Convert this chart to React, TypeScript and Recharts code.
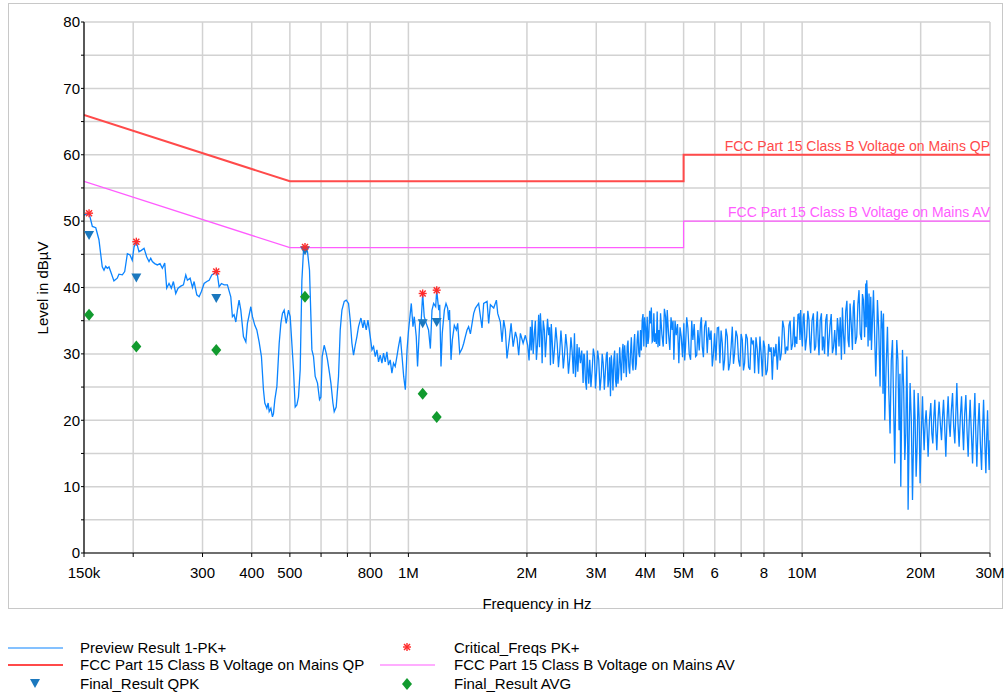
import React from "react";
import { ComposedChart, Line, Scatter, XAxis, YAxis, CartesianGrid } from "recharts";

// frequencies in kHz, levels in dBµV
const traceLow: [number, number][] = [
  [150, 50.9], [151.5, 51.0], [154.5, 51.2], [157.5, 49.2], [160.7, 49.0], [163.7, 47.2], [166.9, 43.1], [168.6, 42.6],
  [170.3, 43.2], [171.9, 42.9], [173.6, 43.1], [175.3, 42.4], [178.7, 41.0], [182.2, 41.4], [184, 42.0], [187.7, 41.9],
  [190.3, 42.4], [193.3, 45.1], [196.3, 44.9], [198.9, 44.1], [201, 46.1], [203.7, 46.9], [206.9, 45.4], [209.8, 45.6],
  [213.1, 45.9], [216.5, 44.6], [219.4, 43.9], [221.6, 44.4], [223.7, 43.9], [226.8, 43.6], [230.3, 43.4], [234, 43.6],
  [237.2, 42.9], [240.5, 43.7], [243.3, 39.9], [246.6, 40.6], [250, 39.9], [253, 40.9], [256.5, 39.1], [260, 39.9],
  [264.2, 40.2], [268.3, 40.4], [272, 41.9], [274.6, 41.1], [279, 41.4], [282.8, 40.0], [285.6, 40.9], [290.1, 38.9],
  [294.1, 38.6], [298, 39.4], [302.8, 40.6], [307.6, 40.9], [311.8, 41.1], [316.7, 41.9], [321, 42.1], [325.1, 42.4],
  [327.3, 41.9], [330.5, 40.1], [335, 40.6], [340.4, 40.4], [347, 40.4], [353.9, 38.6], [357.3, 35.6], [360.8, 35.9],
  [364.5, 34.8], [367.9, 36.6], [371.5, 38.1], [375.3, 36.6], [381.1, 32.6], [386.5, 31.8], [390.1, 34.6], [397.9, 37.1],
  [401.7, 35.6], [407.3, 34.3], [412.1, 33.6], [417.7, 31.8], [423.4, 29.6], [428.4, 24.6], [431.8, 22.6], [437, 21.8],
  [440.3, 22.6], [443, 21.3], [447.4, 21.8], [451.6, 20.5], [454.3, 21.0], [457.9, 23.1], [463.4, 25.1], [469.7, 31.6],
  [474.3, 34.6], [478.8, 36.1], [483.6, 36.6], [489.3, 34.6], [495.9, 36.6], [500.9, 35.6], [510.7, 27.6], [515.8, 22.0],
  [520.9, 22.3], [525.8, 23.5], [531.1, 27.6], [536.4, 41.1], [541.5, 45.6], [546.2, 46.0], [554.3, 45.4], [560.8, 42.6],
  [568.7, 30.6], [574.1, 29.6], [579.8, 26.6], [587.7, 25.6], [594.6, 23.1], [599.4, 23.5], [604, 29.6], [611.1, 31.3],
  [618.3, 30.1], [623.1, 29.1], [630.4, 27.1], [635.6, 25.6], [643.1, 22.6], [648, 21.3], [655.6, 22.0], [664.5, 26.6],
  [671.2, 33.6], [677.9, 36.6], [687.1, 37.9], [695.2, 38.1], [704.6, 37.6], [711.6, 35.1], [718.7, 31.6], [725.5, 29.8],
  [732.7, 31.3], [740, 32.6], [747, 34.1], [757.6, 35.4], [766.5, 33.9], [772.4, 35.1], [781.4, 33.6], [789.2, 35.1],
  [800, 32.6], [808, 30.6], [815.7, 31.1], [823.8, 29.6], [831.9, 30.6], [839.8, 28.8], [848, 29.8], [856.5, 28.6],
  [864.6, 30.1], [873.2, 28.8], [881.8, 30.3], [890.1, 28.3], [899, 29.1], [908, 27.1], [916.6, 28.6], [925.7, 28.1],
  [934.9, 29.6], [943.7, 31.1], [954, 32.6], [963.5, 29.6], [972.7, 26.6], [982.3, 24.6], [992.1, 30.6], [1001, 33.6],
  [1011, 36.1], [1017, 37.6], [1027, 34.1], [1035, 35.6], [1047, 32.6], [1055, 28.1], [1068, 34.6], [1078, 35.1],
  [1087, 39.1], [1097, 35.6], [1110, 34.6], [1125, 33.6], [1137, 30.8], [1148, 36.6], [1159, 37.6], [1173, 37.1],
  [1180, 39.6], [1194, 36.6], [1201, 37.4], [1210, 28.1], [1219, 33.1], [1234, 36.6], [1246, 37.6], [1258, 36.9],
  [1265, 35.1], [1272, 36.6], [1283, 29.1], [1293, 32.1], [1308, 34.3], [1324, 33.6], [1334, 34.6], [1350, 30.1],
  [1369, 30.8], [1382, 31.6], [1395, 32.6], [1409, 33.6], [1422, 34.1], [1437, 33.0], [1465, 36.1], [1480, 36.9],
  [1508, 37.6], [1538, 33.9], [1553, 37.6], [1584, 37.9], [1599, 34.6], [1615, 37.4], [1647, 36.9], [1673, 38.1],
  [1686, 36.1], [1712, 34.8], [1729, 31.8], [1746, 35.1], [1763, 33.6], [1780, 29.3], [1808, 32.6], [1823, 34.6],
  [1845, 31.1], [1870, 33.3], [1888, 32.3], [1906, 29.8], [1925, 33.1], [1956, 31.6], [1982, 32.8],
];

const traceMid: [number, number][] = [
  [2009, 31.3], [2041, 34.1], [2061, 35.1], [2089, 33.1], [2114, 29.1], [2142, 35.9], [2164, 36.1], [2186, 28.6],
  [2215, 33.6], [2241, 32.1], [2272, 32.8], [2295, 28.3], [2318, 32.1], [2349, 30.6], [2387, 31.6], [2423, 30.3],
  [2457, 31.1], [2491, 29.8], [2530, 30.8], [2569, 29.3], [2606, 30.3], [2641, 33.1], [2672, 29.1], [2693, 27.3],
  [2735, 28.6], [2778, 25.6], [2800, 29.8], [2833, 24.6], [2855, 28.1], [2888, 29.1], [2929, 27.6], [2969, 29.6],
  [3004, 27.1], [3044, 29.1], [3088, 26.6], [3124, 28.6], [3166, 27.6], [3198, 30.3], [3228, 26.1], [3260, 23.6],
  [3293, 27.6], [3324, 29.1], [3357, 26.1], [3390, 30.1], [3422, 27.1], [3457, 28.6], [3492, 30.3], [3525, 27.1],
  [3560, 29.1], [3595, 31.1], [3629, 28.1], [3665, 30.1], [3702, 28.6], [3737, 31.1], [3774, 27.6], [3811, 32.1],
  [3847, 30.1], [3886, 33.6], [3925, 35.1], [3962, 31.1], [4001, 34.1], [4041, 35.6], [4079, 32.6], [4120, 34.6],
  [4161, 31.8], [4201, 36.1], [4242, 33.1], [4284, 36.4], [4325, 33.6], [4369, 36.1], [4438, 31.1], [4499, 35.6],
  [4543, 36.6], [4613, 30.6], [4678, 33.6], [4723, 29.1], [4789, 32.8], [4862, 28.6], [4931, 32.6], [5007, 34.6],
  [5057, 31.1], [5126, 33.9], [5208, 29.1], [5278, 32.1], [5363, 29.6], [5436, 33.6], [5521, 34.6], [5576, 31.1],
  [5652, 34.1], [5741, 30.1], [5830, 32.1], [5913, 28.1], [5993, 33.1], [6088, 33.9], [6182, 28.6], [6269, 31.6],
  [6354, 29.1], [6455, 32.6], [6554, 28.6], [6647, 34.1], [6737, 30.1], [6844, 32.6], [6950, 28.1], [7048, 32.1],
  [7143, 28.6], [7256, 32.3], [7369, 27.6], [7473, 31.6], [7574, 27.1], [7694, 30.6], [7813, 32.6], [7923, 26.6],
  [8031, 31.1], [8158, 27.6], [8284, 30.3], [8401, 26.1], [8515, 29.6], [8650, 27.6], [8731, 32.6], [8856, 30.1],
  [8993, 33.9], [9135, 31.1], [9258, 34.3], [9389, 30.6], [9534, 35.6], [9629, 32.6], [9760, 35.9], [9875, 32.1],
];

// extra readings from the dense part of the sweep (2 MHz and up)
const traceMidExtra: [number, number][] = [
  [2025, 29.0], [2051, 30.5], [2075, 30.0], [2101, 35.0], [2128, 31.5], [2153, 31.0], [2175, 33.5], [2200, 35.0],
  [2228, 29.5], [2256, 35.3], [2283, 34.0], [2306, 34.5], [2333, 28.5], [2368, 34.0], [2405, 28.0], [2440, 33.5],
  [2474, 27.8], [2510, 33.0], [2550, 27.0], [2587, 32.5], [2623, 27.0], [2656, 26.5], [2682, 31.5], [2714, 31.0],
  [2756, 30.5], [2789, 30.0], [2816, 26.0], [2844, 30.5], [2871, 25.5], [2908, 25.0], [2949, 30.8], [2986, 24.8],
  [3024, 30.5], [3066, 24.5], [3106, 30.0], [3145, 24.6], [3182, 29.8], [3213, 25.0], [3244, 29.5], [3276, 29.8],
  [3308, 24.5], [3340, 30.5], [3373, 25.0], [3406, 25.5], [3440, 31.0], [3474, 26.0], [3508, 31.5], [3542, 31.3],
  [3577, 26.5], [3612, 32.0], [3647, 27.0], [3683, 32.5], [3720, 27.5], [3755, 33.0], [3792, 28.5], [3829, 33.5],
  [3866, 29.5], [3905, 30.5], [3943, 36.0], [3981, 35.5], [4021, 31.0], [4060, 31.5], [4099, 36.5], [4140, 37.0],
  [4181, 32.0], [4221, 31.8], [4263, 31.5], [4304, 31.0], [4347, 31.2], [4403, 33.0], [4468, 36.8], [4521, 31.5],
  [4578, 33.0], [4645, 35.5], [4700, 35.0], [4756, 35.0], [4825, 34.5], [4896, 34.0], [4969, 29.5], [5032, 29.0],
  [5091, 35.5], [5167, 30.0], [5243, 35.0], [5320, 34.5], [5399, 29.8], [5478, 30.5], [5548, 35.5], [5614, 29.5],
  [5696, 35.0], [5785, 34.0], [5871, 33.5], [5953, 30.0], [6040, 29.0], [6135, 34.0], [6225, 33.5], [6311, 27.5],
  [6404, 33.8], [6504, 27.5], [6600, 31.0], [6692, 28.5], [6790, 33.5], [6897, 29.0], [6999, 33.0], [7095, 27.5],
  [7199, 33.0], [7312, 28.0], [7421, 32.5], [7523, 32.0], [7634, 32.5], [7753, 27.0], [7868, 30.0], [7977, 32.0],
  [8094, 26.8], [8221, 31.5], [8342, 31.0], [8458, 31.0], [8582, 31.5], [8690, 30.0], [8793, 29.0], [8924, 35.0],
  [9064, 30.0], [9196, 30.5], [9323, 35.0], [9461, 31.5], [9581, 31.0], [9694, 31.5], [9817, 36.0], [9895, 35.0],
];

const traceHigh: [number, number][] = [
  [9915, 36.6], [10014, 31.1], [10109, 36.1], [10269, 32.6], [10408, 35.1], [10513, 30.1], [10680, 36.1], [10825, 31.1],
  [10932, 36.4], [11036, 29.8], [11193, 36.1], [11324, 32.6], [11478, 35.1], [11634, 29.6], [11771, 34.3], [11937, 30.1],
  [12099, 33.6], [12291, 35.4], [12406, 31.1], [12582, 29.1], [12730, 33.1], [12903, 36.4], [13079, 32.1], [13233, 37.6],
  [13420, 30.6], [13547, 38.1], [13761, 32.6], [13947, 39.6], [14146, 32.1], [14312, 38.1], [14506, 40.6], [14591, 41.1],
  [14704, 31.1], [14788, 39.1], [14937, 38.6], [14998, 30.6], [15175, 39.6], [15381, 26.6], [15533, 38.1], [15773, 25.1],
  [15996, 33.6], [16090, 36.1], [16213, 20.0], [16470, 34.1], [16723, 18.0], [16960, 32.1], [17190, 13.5], [17391, 32.1],
  [17627, 18.5], [17805, 10.0], [17983, 30.6], [18227, 14.0], [18441, 29.6], [18583, 6.5], [18801, 25.6], [19067, 8.0],
  [19248, 24.6], [19476, 11.5], [19703, 24.1], [19934, 10.5], [20216, 23.6], [20408, 15.5], [20650, 21.5], [20891, 14.5],
  [21223, 22.6], [21473, 16.5], [21726, 23.1], [21981, 15.5], [22278, 22.8], [22595, 17.0], [22861, 23.1], [23171, 14.5],
  [23486, 23.6], [23763, 17.5], [24098, 24.1], [24424, 16.5], [24711, 25.6], [25045, 16.0], [25402, 23.6], [25700, 15.5],
  [26049, 23.8], [26404, 14.5], [26713, 23.1], [27091, 13.5], [27459, 24.1], [27781, 13.0], [28156, 22.6], [28557, 12.5],
  [28892, 23.1], [29285, 12.0], [29575, 21.5], [29853, 12.5], [30000, 17.0],
];

const traceHighExtra: [number, number][] = [
  [9964, 33.0], [10061, 35.5], [10189, 30.5], [10338, 36.5], [10460, 31.5], [10596, 35.0], [10752, 30.5], [10878, 34.5],
  [10984, 32.0], [11114, 35.0], [11258, 30.5], [11401, 30.0], [11556, 36.0], [11702, 32.0], [11854, 36.0], [12018, 31.0],
  [12195, 29.8], [12348, 34.0], [12494, 35.5], [12656, 37.0], [12816, 30.0], [12991, 38.0], [13156, 31.0], [13326, 34.5],
  [13483, 37.0], [13654, 31.5], [13854, 37.5], [14046, 33.0], [14229, 39.0], [14409, 32.5], [14548, 34.0], [14647, 38.5],
  [14746, 35.0], [14862, 32.0], [14967, 36.0], [15086, 35.0], [15278, 33.0], [15457, 31.0], [15653, 33.5], [15884, 36.5],
  [16043, 24.0], [16151, 30.0], [16341, 28.0], [16596, 24.5], [16841, 29.0], [17075, 22.0], [17290, 24.0], [17509, 29.0],
  [17716, 27.0], [17894, 21.0], [18105, 25.0], [18334, 18.0], [18512, 22.0], [18692, 17.0], [18934, 20.0], [19157, 15.0],
  [19362, 20.0], [19589, 16.0], [19818, 20.5], [20075, 18.0], [20312, 19.0], [20529, 19.5], [20770, 18.5], [21057, 20.0],
  [21348, 18.0], [21599, 20.5], [21853, 18.5], [22129, 20.0], [22436, 19.5], [22728, 20.5], [23016, 19.0], [23328, 20.0],
  [23624, 19.5], [23930, 21.5], [24261, 19.0], [24567, 21.0], [24878, 19.5], [25223, 20.5], [25551, 19.0], [25874, 21.0],
  [26226, 18.5], [26558, 19.5], [26902, 18.0], [27275, 19.5], [27620, 17.5], [27968, 19.0], [28356, 16.5], [28724, 18.5],
  [29088, 17.0], [29430, 17.5], [29714, 16.0],
];

const limitQP: [number, number][] = [[150, 66], [500, 56], [5000, 56], [5000, 60], [30000, 60]];
const limitAV: [number, number][] = [[150, 56], [500, 46], [5000, 46], [5000, 50], [30000, 50]];

const finalFreqs = [154.5, 203.7, 325.1, 546.2, 1087, 1180];
const criticalLevels = [51.2, 46.9, 42.4, 46.1, 39.1, 39.6];
const qpkLevels = [47.9, 41.5, 38.4, 45.6, 34.6, 34.8];
const avgLevels = [35.9, 31.1, 30.6, 38.6, 24.0, 20.5];

const xTicks = [150, 200, 300, 400, 500, 600, 700, 800, 1000, 2000, 3000, 4000, 5000, 6000, 7000, 8000, 10000, 20000, 30000];
const xTickLabels: Record<number, string> = {
  150: "150k", 300: "300", 400: "400", 500: "500", 800: "800", 1000: "1M", 2000: "2M", 3000: "3M",
  4000: "4M", 5000: "5M", 6000: "6", 8000: "8", 10000: "10M", 20000: "20M", 30000: "30M",
};
const yTicks = [0, 5, 10, 15, 20, 25, 30, 35, 40, 45, 50, 55, 60, 65, 70, 75, 80];

const toPts = (arr: [number, number][]) => arr.map(([k, v]) => ({ f: k * 1000, v }));
const traceData = toPts(
  [...traceLow, ...traceMid, ...traceMidExtra, ...traceHigh, ...traceHighExtra].sort((a, b) => a[0] - b[0])
);
const qpData = toPts(limitQP);
const avData = toPts(limitAV);
const critData = finalFreqs.map((k, i) => ({ f: k * 1000, v: criticalLevels[i] }));
const qpkData = finalFreqs.map((k, i) => ({ f: k * 1000, v: qpkLevels[i] }));
const avgData = finalFreqs.map((k, i) => ({ f: k * 1000, v: avgLevels[i] }));

const FONT = '"Liberation Sans", Arial, sans-serif';
const BLUE = "#0a84ff";
const RED = "#ff4a4a";
const MAGENTA = "#ff5cff";
const TRI = "#1b78be";
const GREEN = "#119a2e";
const STAR = "#ff2b2b";

const Asterisk = ({ cx, cy }: any) => (
  <g stroke={STAR} strokeWidth={1.4}>
    <line x1={cx - 4} y1={cy} x2={cx + 4} y2={cy} />
    <line x1={cx} y1={cy - 4} x2={cx} y2={cy + 4} />
    <line x1={cx - 3} y1={cy - 3} x2={cx + 3} y2={cy + 3} />
    <line x1={cx - 3} y1={cy + 3} x2={cx + 3} y2={cy - 3} />
  </g>
);

const Triangle = ({ cx, cy }: any) => (
  <polygon points={`${cx - 5},${cy - 4} ${cx + 5},${cy - 4} ${cx},${cy + 5}`} fill={TRI} />
);

const Diamond = ({ cx, cy }: any) => (
  <polygon points={`${cx},${cy - 6} ${cx + 5},${cy} ${cx},${cy + 6} ${cx - 5},${cy}`} fill={GREEN} />
);

const limitLabel = (text: string, color: string, count: number) => (props: any) => {
  if (props.index !== count - 1) return <g />;
  return (
    <text x={props.x} y={props.y - 4} textAnchor="end" fill={color} fontSize={14} fontFamily={FONT}>
      {text}
    </text>
  );
};

const legendRows = [
  { y: 648, text: "Preview Result 1-PK+", sym: "line", color: BLUE, w: 1.2 },
  { y: 665, text: "FCC Part 15 Class B Voltage on Mains QP", sym: "line", color: RED, w: 2 },
  { y: 684, text: "Final_Result QPK", sym: "tri", color: TRI, w: 0 },
];
const legendRows2 = [
  { y: 648, text: "Critical_Freqs PK+", sym: "star", color: STAR, w: 0 },
  { y: 665, text: "FCC Part 15 Class B Voltage on Mains AV", sym: "line", color: MAGENTA, w: 1.2 },
  { y: 684, text: "Final_Result AVG", sym: "dia", color: GREEN, w: 0 },
];

function LegendItem({ x, textX, row }: { x: number; textX: number; row: any }) {
  return (
    <>
      <svg style={{ position: "absolute", left: x, top: row.y - 8, overflow: "visible" }} width={56} height={16}>
        {row.sym === "line" && <line x1={0} y1={8} x2={55} y2={8} stroke={row.color} strokeWidth={row.w} />}
        {row.sym === "tri" && <Triangle cx={27} cy={7} />}
        {row.sym === "dia" && <Diamond cx={27} cy={8} />}
        {row.sym === "star" && <Asterisk cx={27} cy={7} />}
      </svg>
      <div style={{ position: "absolute", left: textX, top: row.y - 9, fontSize: 15, lineHeight: "18px", whiteSpace: "nowrap" }}>
        {row.text}
      </div>
    </>
  );
}

export default function App() {
  return (
    <div style={{ position: "absolute", left: 0, top: 0, width: 1008, height: 696, background: "#fff", fontFamily: FONT, color: "#000" }}>
      <div style={{ position: "absolute", left: 8, top: 3, width: 993, height: 604, border: "1px solid #c8c8c8" }} />
      <div style={{ position: "absolute", left: 0, top: 0 }}>
        <ComposedChart width={1008} height={696} margin={{ top: 22, right: 18, bottom: 103, left: 44 }}>
          <CartesianGrid stroke="#d2d2d2" strokeWidth={1.5} />
          <XAxis
            dataKey="f"
            type="number"
            scale="log"
            domain={[150000, 30000000]}
            allowDataOverflow
            ticks={xTicks.map((k) => k * 1000)}
            tickFormatter={(v: number) => xTickLabels[Math.round(v / 1000)] ?? ""}
            height={40}
            tickSize={4}
            tickMargin={10}
            axisLine={{ stroke: "#000", strokeWidth: 1.2 }}
            tickLine={{ stroke: "#000" }}
            tick={{ fill: "#000", fontSize: 15, fontFamily: FONT }}
            interval={0}
          />
          <YAxis
            dataKey="v"
            type="number"
            domain={[0, 80]}
            allowDataOverflow
            ticks={yTicks}
            tickFormatter={(v: number) => (v % 10 === 0 ? String(v) : "")}
            width={40}
            tickSize={3}
            tickMargin={1}
            axisLine={{ stroke: "#000", strokeWidth: 1.2 }}
            tickLine={{ stroke: "#000" }}
            tick={{ fill: "#000", fontSize: 15, fontFamily: FONT }}
            interval={0}
          />
          <Line data={traceData} dataKey="v" stroke={BLUE} strokeWidth={1.3} dot={false} isAnimationActive={false} type="linear" />
          <Line
            data={avData}
            dataKey="v"
            stroke={MAGENTA}
            strokeWidth={1.2}
            dot={false}
            isAnimationActive={false}
            type="linear"
            label={limitLabel("FCC Part 15 Class B Voltage on Mains AV", MAGENTA, avData.length)}
          />
          <Line
            data={qpData}
            dataKey="v"
            stroke={RED}
            strokeWidth={2}
            dot={false}
            isAnimationActive={false}
            type="linear"
            label={limitLabel("FCC Part 15 Class B Voltage on Mains QP", RED, qpData.length)}
          />
          <Scatter data={avgData} dataKey="v" shape={<Diamond />} isAnimationActive={false} />
          <Scatter data={qpkData} dataKey="v" shape={<Triangle />} isAnimationActive={false} />
          <Scatter data={critData} dataKey="v" shape={<Asterisk />} isAnimationActive={false} />
        </ComposedChart>
      </div>
      <div
        style={{
          position: "absolute",
          left: 42,
          top: 288,
          transform: "translate(-50%, -50%) rotate(-90deg)",
          fontSize: 15,
          whiteSpace: "nowrap",
        }}
      >
        Level in dBµV
      </div>
      <div style={{ position: "absolute", left: 537, top: 603, transform: "translate(-50%, -50%)", fontSize: 15, whiteSpace: "nowrap" }}>
        Frequency in Hz
      </div>
      {legendRows.map((r) => (
        <LegendItem key={r.text} x={8} textX={80} row={r} />
      ))}
      {legendRows2.map((r) => (
        <LegendItem key={r.text} x={380} textX={454} row={r} />
      ))}
    </div>
  );
}
